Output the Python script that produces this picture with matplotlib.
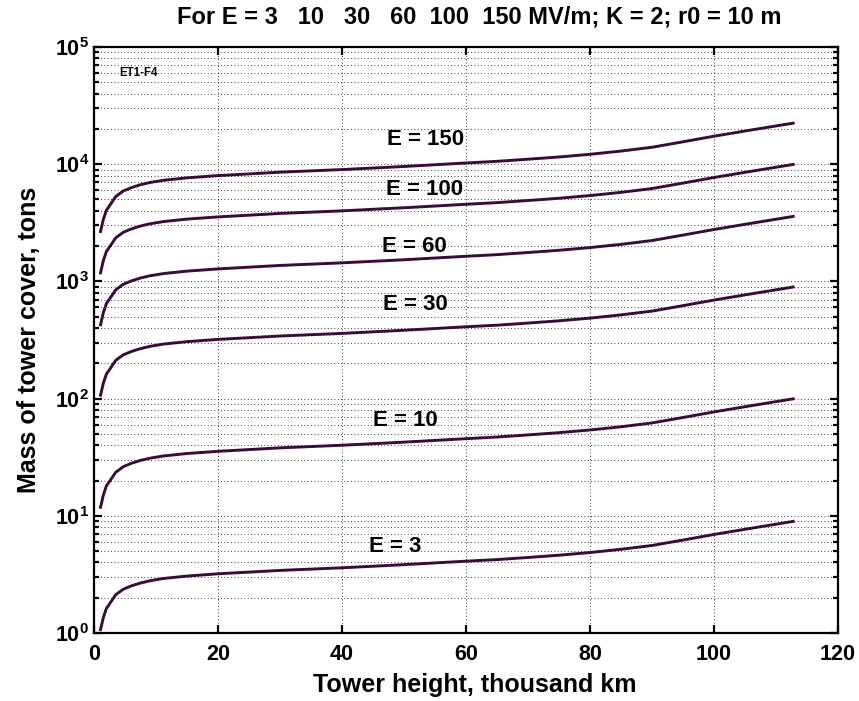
import matplotlib
matplotlib.use("Agg")
import matplotlib.pyplot as plt
import numpy as np

plt.rcParams['font.family'] = ['Liberation Sans', 'DejaVu Sans']
plt.rcParams['font.weight'] = 'bold'
plt.rcParams['mathtext.fontset'] = 'custom'
plt.rcParams['mathtext.rm'] = 'Liberation Sans:bold'
plt.rcParams['mathtext.bf'] = 'Liberation Sans:bold'
plt.rcParams['mathtext.default'] = 'bf'

# Tower height, thousand km
height = [1, 1.5, 2, 2.6, 3.5, 4.7, 6, 7.4, 9, 11.2, 15, 20, 30, 40, 50, 60,
          65, 70, 75, 80, 85, 90, 95, 100, 106, 113]

mass_E3 = [1.04, 1.35, 1.62, 1.8, 2.12, 2.36, 2.52, 2.66, 2.79, 2.92, 3.06, 3.2,
           3.42, 3.6, 3.83, 4.1, 4.23, 4.41, 4.61, 4.86, 5.18, 5.58, 6.21, 6.93,
           7.83, 9.0]
mass_E10 = [11.5, 15, 18, 20, 23.5, 26.2, 28, 29.6, 31, 32.4, 34, 35.5, 38, 40,
            42.5, 45.5, 47, 49, 51.2, 54, 57.5, 62, 69, 77, 87, 100]
mass_E30 = [104, 135, 162, 180, 212, 236, 252, 266, 279, 292, 306, 320, 342, 360,
            383, 410, 423, 441, 461, 486, 518, 558, 621, 693, 783, 900]
mass_E60 = [414, 540, 648, 720, 846, 943, 1008, 1066, 1116, 1166, 1224, 1278,
            1368, 1440, 1530, 1638, 1692, 1764, 1843, 1944, 2070, 2232, 2484,
            2772, 3132, 3600]
mass_E100 = [1150, 1500, 1800, 2000, 2350, 2620, 2800, 2960, 3100, 3240, 3400,
             3550, 3800, 4000, 4250, 4550, 4700, 4900, 5120, 5400, 5750, 6200,
             6900, 7700, 8700, 10000]
mass_E150 = [2590, 3375, 4050, 4500, 5290, 5900, 6300, 6660, 6975, 7290, 7650,
             7990, 8550, 9000, 9560, 10240, 10580, 11030, 11520, 12150, 12940,
             13950, 15530, 17330, 19580, 22500]

series = [mass_E3, mass_E10, mass_E30, mass_E60, mass_E100, mass_E150]
labels = ["E = 3", "E = 10", "E = 30", "E = 60", "E = 100", "E = 150"]
label_x = [48.6, 50.2, 51.8, 51.6, 53.3, 53.5]
label_y = [5.5, 65, 630, 1980, 6030, 16300]

title = "For E = 3   10   30   60  100  150 MV/m; K = 2; r0 = 10 m"
xlabel = "Tower height, thousand km"
ylabel = "Mass of tower cover, tons"
xticks = [0, 20, 40, 60, 80, 100, 120]

fig = plt.figure(figsize=(8.59, 7.01), dpi=100)
ax = fig.add_axes([94/859, 1-633/701, (838-94)/859, (633-47)/701])

line_color = '#3a0a38'
for ys in series:
    ax.plot(height, ys, color=line_color, lw=2.1, solid_capstyle='butt')

for lx, ly, lt in zip(label_x, label_y, labels):
    ax.text(lx, ly, lt, ha='center', va='center', fontsize=16, fontweight='bold')

ax.text(4.1, 6.0e4, "ET1-F4", ha='left', va='center', fontsize=8.3, fontweight='bold')

ax.set_yscale('log')
ax.set_xlim(0, 120)
ax.set_ylim(1, 1e5)
ax.set_xticks(xticks)
ax.set_xticklabels([str(t) for t in xticks])

ax.grid(True, which='major', axis='both', color='k', lw=0.6, linestyle=(0, (1, 3)))
ax.grid(True, which='minor', axis='y', color='k', lw=0.6, linestyle=(0, (1, 3)))

ax.tick_params(which='both', direction='in', top=True, right=True, width=1.6,
               labelsize=15.5)
ax.tick_params(which='major', length=6)
ax.tick_params(which='minor', length=3.5)
ax.tick_params(axis='x', pad=8)
for sp in ax.spines.values():
    sp.set_linewidth(1.6)

ax.set_title(title, fontsize=17, fontweight='bold', pad=17, x=0.518)
ax.set_xlabel(xlabel, fontsize=18, fontweight='bold', labelpad=6)
ax.xaxis.label.set_x(0.512)
ax.set_ylabel(ylabel, fontsize=18, fontweight='bold', labelpad=10)

fig.savefig("out.png", dpi=100)
